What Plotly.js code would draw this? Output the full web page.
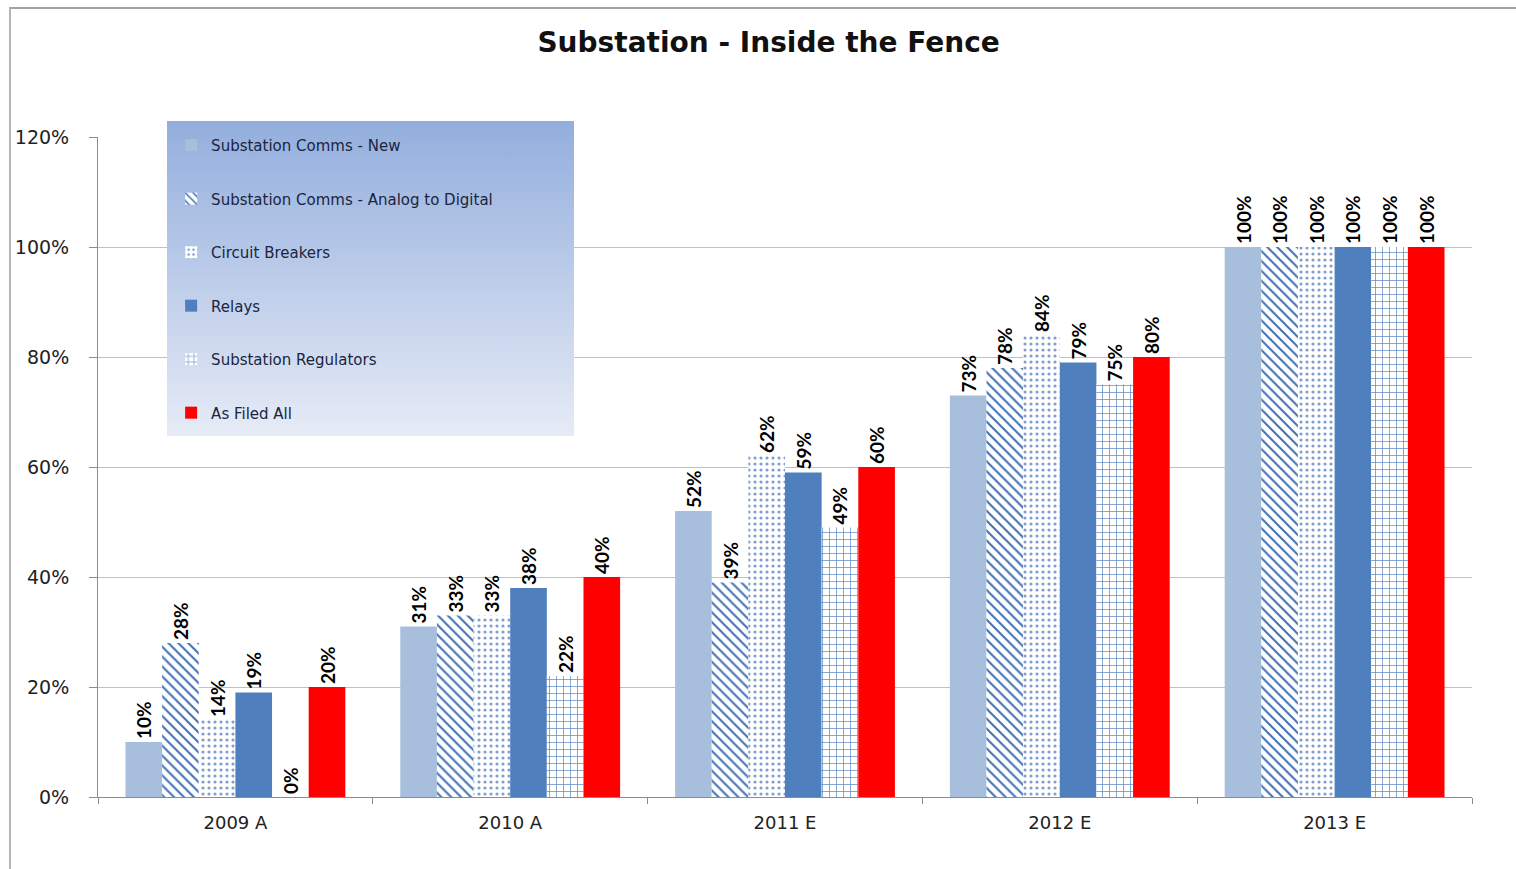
<!DOCTYPE html>
<html>
<head>
<meta charset="utf-8">
<script src="https://cdn.plot.ly/plotly-3.0.1.min.js"></script>
<style>
  html, body { margin: 0; padding: 0; background: #fff; }
  #chart { position: absolute; left: 0; top: 0; width: 1516px; height: 869px; }
  #frame { position: absolute; left: 9px; top: 7px; width: 1507px; height: 862px;
           border-top: 2px solid #a3a3a3; border-left: 2px solid #b5b5b5; pointer-events: none; }
</style>
</head>
<body>
<div id="chart"></div>
<div id="frame"></div>
<script>
// ---- data ----
const categories = ["2009 A", "2010 A", "2011 E", "2012 E", "2013 E"];
const seriesNames = [
  "Substation Comms - New",
  "Substation Comms - Analog to Digital",
  "Circuit Breakers",
  "Relays",
  "Substation Regulators",
  "As Filed All"
];
const commsNew      = [0.10, 0.31, 0.52, 0.73, 1.00];
const commsAnalog   = [0.28, 0.33, 0.39, 0.78, 1.00];
const circuitBreak  = [0.14, 0.33, 0.62, 0.84, 1.00];
const relays        = [0.19, 0.38, 0.59, 0.79, 1.00];
const regulators    = [0.00, 0.22, 0.49, 0.75, 1.00];
const asFiledAll    = [0.20, 0.40, 0.60, 0.80, 1.00];
const yTickVals  = [0, 0.2, 0.4, 0.6, 0.8, 1.0, 1.2];
const yTickText  = ["0%", "20%", "40%", "60%", "80%", "100%", "120%"];

const seriesValues = [commsNew, commsAnalog, circuitBreak, relays, regulators, asFiledAll];

const styles = [
  { color: "#a7bedd" },
  { color: "#3f6fb3", pattern: { shape: "\\", bgcolor: "#ffffff", fgcolor: "#3f6fb3", size: 7, solidity: 0.28 } },
  { color: "#7f9fd0", pattern: { shape: ".", bgcolor: "#ffffff", fgcolor: "#7f9fd0", size: 6, solidity: 0.22 } },
  { color: "#4f80bd" },
  { color: "#5f89c4", pattern: { shape: "+", bgcolor: "#ffffff", fgcolor: "#5f89c4", size: 7, solidity: 0.2 } },
  { color: "#ff0000" }
];

const traces = seriesValues.map((vals, i) => ({
  type: "bar",
  name: seriesNames[i],
  legendgroup: "g" + i,
  x: categories,
  y: vals,
  text: vals.map(v => Math.round(v * 100) + "%"),
  textposition: "outside",
  textangle: -90,
  constraintext: "none",
  cliponaxis: false,
  textfont: { family: "Lato, 'Open Sans', sans-serif", size: 19, color: "#000", weight: "bold" },
  marker: Object.assign({ line: { width: 0 } }, styles[i]),
  hoverinfo: "skip"
}));

// plot area geometry (px) for the legend background
const L = 98, R = 1472, T = 137, B = 797;
const PW = R - L, PH = B - T;
const lgX0 = 167, lgX1 = 574, lgY0 = 121, lgY1 = 436;

const svg = '<svg xmlns="http://www.w3.org/2000/svg" width="407" height="315" viewBox="0 0 407 315" preserveAspectRatio="none">' +
  '<defs><linearGradient id="g" x1="0" y1="0" x2="0" y2="1">' +
  '<stop offset="0" stop-color="#93aedd"/><stop offset="1" stop-color="#e6ebf6"/></linearGradient></defs>' +
  '<rect width="407" height="315" fill="url(#g)"/></svg>';
const svgUri = "data:image/svg+xml;charset=utf-8," + encodeURIComponent(svg);

const layout = {
  width: 1516,
  height: 869,
  paper_bgcolor: "rgba(0,0,0,0)",
  plot_bgcolor: "rgba(0,0,0,0)",
  margin: { l: L, r: 1516 - R, t: T, b: 869 - B },
  title: {
    text: "Substation - Inside the Fence",
    font: { family: "'DejaVu Sans', sans-serif", size: 28, color: "#111", weight: "bold" },
    x: 0.507, xanchor: "center",
    y: 1 - 42 / 869, yanchor: "middle"
  },
  barmode: "group",
  bargap: 0.2,
  bargroupgap: 0,
  font: { family: "'DejaVu Sans', sans-serif", color: "#222" },
  xaxis: {
    type: "category",
    showline: true, linecolor: "#8c8c8c", linewidth: 1,
    ticks: "outside", tickson: "boundaries", ticklen: 6, tickcolor: "#8c8c8c",
    ticklabelstandoff: 9,
    tickfont: { family: "'DejaVu Sans', sans-serif", size: 18, color: "#222" },
    showgrid: false, zeroline: false
  },
  yaxis: {
    range: [0, 1.2],
    tickvals: yTickVals,
    ticktext: yTickText,
    showline: true, linecolor: "#8c8c8c", linewidth: 1,
    ticks: "outside", ticklen: 8, tickcolor: "#8c8c8c",
    ticklabelstandoff: 16,
    tickfont: { family: "'DejaVu Sans', sans-serif", size: 19, color: "#222" },
    showgrid: true, gridcolor: "#c0c0c0", gridwidth: 1,
    zeroline: false
  },
  showlegend: true,
  legend: {
    x: (lgX0 - L) / PW + 0.003,
    xanchor: "left",
    y: (B - lgY0) / PH - 0.012,
    yanchor: "top",
    bgcolor: "rgba(0,0,0,0)",
    borderwidth: 0,
    tracegroupgap: 31,
    traceorder: "grouped",
    font: { family: "'DejaVu Sans', sans-serif", size: 15, color: "#1a2540" }
  },
  images: [{
    source: svgUri,
    xref: "paper", yref: "paper",
    x: (lgX0 - L) / PW, y: (B - lgY0) / PH,
    sizex: (lgX1 - lgX0) / PW, sizey: (lgY1 - lgY0) / PH,
    xanchor: "left", yanchor: "top",
    sizing: "stretch",
    layer: "above"
  }]
};

Plotly.newPlot("chart", traces, layout, { displayModeBar: false, staticPlot: true });
</script>
</body>
</html>
